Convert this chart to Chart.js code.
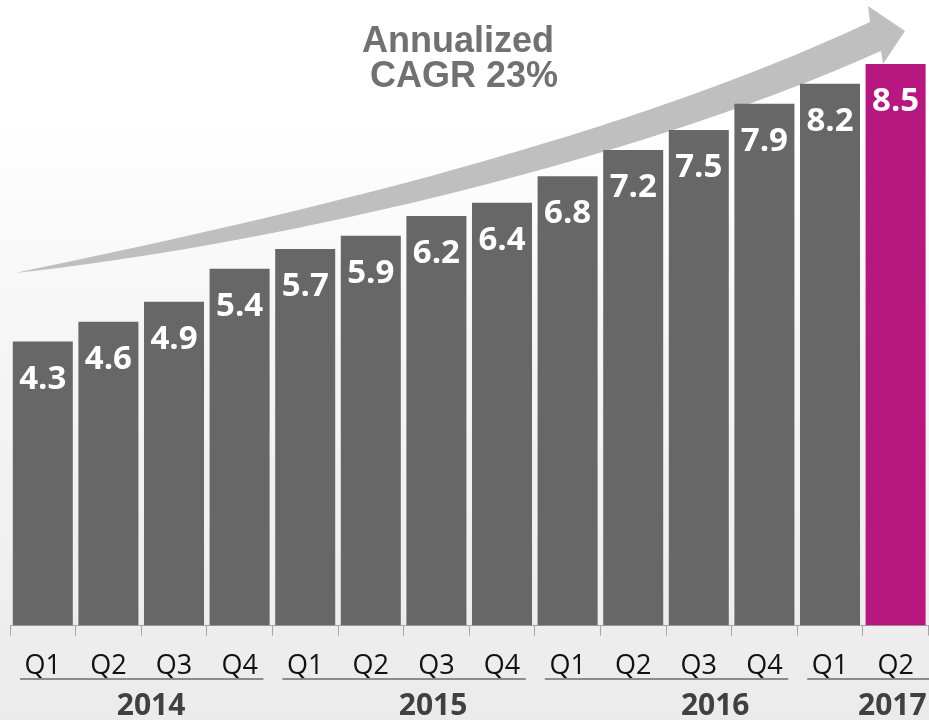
<!DOCTYPE html>
<html>
<head>
<meta charset="utf-8">
<script src="https://cdn.jsdelivr.net/npm/chart.js@4/dist/chart.umd.min.js"></script>
<style>
    html, body { margin:0; padding:0; }
    body {
        width:929px; height:720px; overflow:hidden;
        background:linear-gradient(to bottom, #ffffff 0%, #ffffff 16%, #f6f6f6 45%, #ebebeb 100%);
    }
    canvas { display:block; }
</style>
</head>
<body>
<canvas id="growth_chart" width="929" height="720"></canvas>
<script>
// 분기별 값
let quarters = ["Q1","Q2","Q3","Q4","Q1","Q2","Q3","Q4","Q1","Q2","Q3","Q4","Q1","Q2"];
let values = [4.3, 4.6, 4.9, 5.4, 5.7, 5.9, 6.2, 6.4, 6.8, 7.2, 7.5, 7.9, 8.2, 8.5];

// 연도 그룹 (시작/끝 분기 인덱스), 연도 글자 위치는 인덱스 기준
let years = ["2014","2015","2016","2017"];
let yearStart = [0, 4, 8, 12];
let yearEnd = [3, 7, 11, 13];
let yearLabelAt = [1.65, 5.95, 10.25, 12.95];

let titleLines = ["Annualized", "CAGR 23%"];

let barColors = values.map(function(v, i){
    return i == values.length - 1 ? "#b8177f" : "#666766";
});

// 뒤쪽 회색 곡선 화살표
let arrowPlugin = {
    id:"arrow",
    beforeDatasetsDraw:function(chart){
        let c = chart.ctx;
        c.save();
        c.fillStyle = "#bfbfbf";
        c.beginPath();
        c.moveTo(15, 273);
        c.bezierCurveTo(250, 224, 600, 148, 870, 22);
        c.lineTo(868, 6);
        c.lineTo(905, 31);
        c.lineTo(883, 64);
        c.lineTo(881, 51);
        c.bezierCurveTo(620, 168, 250, 248, 15, 273);
        c.closePath();
        c.fill();

        c.fillStyle = "#717171";
        c.font = "bold 36px 'Liberation Sans', Arial, sans-serif";
        c.textAlign = "center";
        c.textBaseline = "alphabetic";
        c.fillText(titleLines[0], 458, 52);
        c.fillText(titleLines[1], 464, 87);
        c.restore();
    }
};

// 막대 안쪽 값 표시 + 연도 밑줄/연도 글자
let labelPlugin = {
    id:"labels",
    afterDatasetsDraw:function(chart){
        let c = chart.ctx;
        let meta = chart.getDatasetMeta(0);
        c.save();
        c.fillStyle = "#ffffff";
        c.font = "bold 33px 'Open Sans', sans-serif";
        c.textAlign = "center";
        c.textBaseline = "alphabetic";
        for(let i=0; i<meta.data.length; i++){
            let bar = meta.data[i];
            c.fillText(values[i].toFixed(1), bar.x, bar.y + 47);
        }
        c.restore();
    },
    afterDraw:function(chart){
        let c = chart.ctx;
        let xs = chart.scales.x;
        c.save();
        c.strokeStyle = "#8c8c8c";
        c.lineWidth = 2;
        for(let i=0; i<years.length; i++){
            let x1 = xs.getPixelForValue(yearStart[i] - 0.5) + 10;
            let x2 = xs.getPixelForValue(yearEnd[i] + 0.5) - 9;
            if(i == years.length - 1) x2 = chart.width;
            c.beginPath();
            c.moveTo(x1, 679);
            c.lineTo(x2, 679);
            c.stroke();
        }
        c.fillStyle = "#404040";
        c.font = "bold 30px 'Open Sans', sans-serif";
        c.textAlign = "center";
        c.textBaseline = "alphabetic";
        for(let i=0; i<years.length; i++){
            c.fillText(years[i], xs.getPixelForValue(yearLabelAt[i]), 715);
        }
        c.restore();
    }
};

let ctx = document.getElementById("growth_chart");
let growth_chart = new Chart(ctx, {
    type:"bar",
    data:{
        labels:quarters,
        datasets:[
            {
                data:values,
                backgroundColor:barColors,
                borderWidth:0,
                categoryPercentage:1,
                barPercentage:0.915
            }
        ]
    },
    options:{
        responsive:false,
        animation:false,
        layout:{
            padding:{ left:10, right:0.6, top:31, bottom:22 }
        },
        plugins:{
            legend:{ display:false },
            tooltip:{ enabled:false }
        },
        scales:{
            x:{
                grid:{
                    display:true,
                    drawOnChartArea:false,
                    drawTicks:true,
                    tickLength:10,
                    color:"#a6a6a6",
                    offset:true
                },
                border:{ display:true, color:"#a6a6a6", width:1 },
                ticks:{
                    color:"#111111",
                    font:{ family:"'Open Sans', sans-serif", size:27 },
                    padding:15,
                    maxRotation:0
                }
            },
            y:{
                display:false,
                min:0,
                max:9
            }
        }
    },
    plugins:[arrowPlugin, labelPlugin]
});
</script>
</body>
</html>
